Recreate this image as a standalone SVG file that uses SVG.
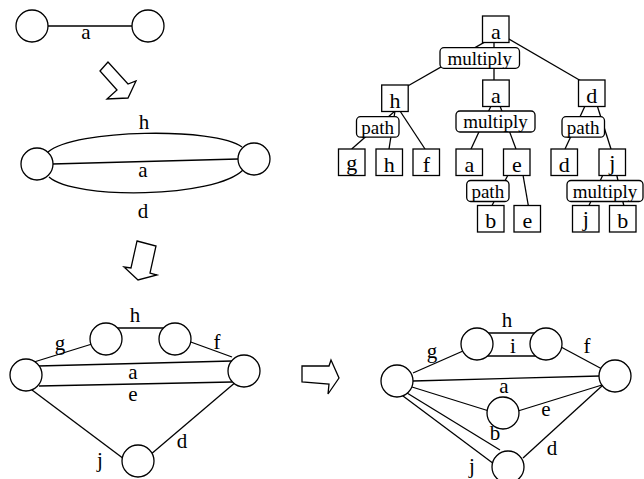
<svg xmlns="http://www.w3.org/2000/svg" width="644" height="479" viewBox="0 0 644 479">
<style>
text{font-family:"Liberation Serif","Times New Roman",serif;font-size:21px;text-anchor:middle;fill:#000}
text.n{font-size:22px}
text.o{font-size:19px}
.v{fill:#fff;stroke:#000;stroke-width:1.3}
.e line,.e path{stroke:#000;stroke-width:1.3;fill:none}
.bx{fill:#fff;stroke:#000;stroke-width:1.3}
.op{fill:#fff;stroke:#000;stroke-width:1.3}
.ar{fill:#fff;stroke:#000;stroke-width:1.3;stroke-linejoin:miter}
</style>
<rect width="644" height="479" fill="#fff"/>

<!-- Graph 1 (top-left) -->
<g id="g1-edges" class="e">
<line x1="48" y1="26" x2="132" y2="26"/>
</g>
<g id="g1-n1"><circle class="v" cx="32" cy="26" r="16"/></g>
<g id="g1-n2"><circle class="v" cx="148" cy="26" r="16"/></g>
<text x="86" y="39">a</text>

<!-- arrows -->
<g id="arrow1"><polygon class="ar" points="100,71 108,62 128,84 136,81 128,98 107,99 117,90"/></g>
<g id="arrow2"><polygon class="ar" points="137,241 156,246 150,273 157,275 138,280 124,267 131,268"/></g>
<g id="arrow3"><polygon class="ar" points="302,366 329,366 331,360 339,378 328,394 329,384 302,382"/></g>

<!-- Graph 2 (middle-left) -->
<g id="g2-edges" class="e">
<path d="M48,152 C75,129 215,127 242,147"/>
<line x1="52" y1="164" x2="238" y2="159"/>
<path d="M49,177 C75,200 215,198 243,170"/>
</g>
<g id="g2-n1"><circle class="v" cx="37" cy="164" r="16"/></g>
<g id="g2-n2"><circle class="v" cx="254" cy="159" r="16"/></g>
<text x="144" y="129">h</text>
<text x="143" y="177">a</text>
<text x="143" y="218">d</text>

<!-- Graph 3 (bottom-left) -->
<g id="g3-edges" class="e">
<line x1="34" y1="362" x2="92" y2="344"/>
<line x1="115" y1="328" x2="166" y2="328"/>
<line x1="188" y1="341" x2="232" y2="357"/>
<line x1="38" y1="366" x2="232" y2="361"/>
<line x1="39" y1="386" x2="232" y2="382"/>
<line x1="32" y1="390" x2="124" y2="459"/>
<line x1="150" y1="455" x2="237" y2="381"/>
</g>
<g id="g3-L"><circle class="v" cx="26" cy="375" r="16"/></g>
<g id="g3-R"><circle class="v" cx="244" cy="371" r="16"/></g>
<g id="g3-TL"><circle class="v" cx="106" cy="339" r="16"/></g>
<g id="g3-TR"><circle class="v" cx="175" cy="339" r="16"/></g>
<g id="g3-B"><circle class="v" cx="138" cy="461" r="16"/></g>
<text x="135" y="322">h</text>
<text x="60" y="350">g</text>
<text x="217" y="349">f</text>
<text x="133" y="379">a</text>
<text x="133" y="401">e</text>
<text x="182" y="448">d</text>
<text x="100" y="467">j</text>

<!-- Graph 4 (bottom-right) -->
<g id="g4-edges" class="e">
<line x1="413" y1="373" x2="463" y2="351"/>
<line x1="480" y1="333" x2="543" y2="333"/>
<line x1="480" y1="356" x2="543" y2="356"/>
<line x1="561" y1="347" x2="602" y2="369"/>
<line x1="413" y1="381" x2="600" y2="376"/>
<line x1="412" y1="387" x2="489" y2="411"/>
<line x1="518" y1="411" x2="602" y2="385"/>
<line x1="407" y1="393" x2="500" y2="450"/>
<line x1="403" y1="396" x2="494" y2="464"/>
<line x1="523" y1="458" x2="603" y2="385"/>
</g>
<g id="g4-L"><circle class="v" cx="397" cy="381" r="16"/></g>
<g id="g4-R"><circle class="v" cx="615" cy="376" r="16"/></g>
<g id="g4-TL"><circle class="v" cx="477" cy="344" r="16"/></g>
<g id="g4-TR"><circle class="v" cx="546" cy="344" r="16"/></g>
<g id="g4-M"><circle class="v" cx="503" cy="413" r="16"/></g>
<g id="g4-B"><circle class="v" cx="508" cy="467" r="16"/></g>
<text x="507" y="327">h</text>
<text x="513" y="353">i</text>
<text x="432" y="358">g</text>
<text x="587" y="353">f</text>
<text x="504" y="393">a</text>
<text x="546" y="416">e</text>
<text x="495" y="440">b</text>
<text x="552" y="455">d</text>
<text x="472" y="473">j</text>

<!-- Tree -->
<g id="tree-edges" class="e">
<line x1="496" y1="35.6" x2="395" y2="93.3"/>
<line x1="494" y1="29" x2="494" y2="93"/>
<line x1="496" y1="31.6" x2="591" y2="86.8"/>
<line x1="395" y1="111" x2="351.7" y2="149"/>
<line x1="395" y1="111" x2="389" y2="149"/>
<line x1="400" y1="111" x2="425" y2="149"/>
<line x1="491" y1="106" x2="471" y2="149"/>
<line x1="500" y1="106" x2="516" y2="149"/>
<line x1="585" y1="106" x2="565" y2="149"/>
<line x1="597.3" y1="106" x2="611" y2="149"/>
<line x1="508" y1="175" x2="492" y2="205.5"/>
<line x1="523" y1="175" x2="528.3" y2="205.5"/>
<line x1="602.8" y1="175" x2="589" y2="205.5"/>
<line x1="616.7" y1="175" x2="623.8" y2="205.5"/>
</g>
<g id="t-root"><rect class="bx" x="482.5" y="16" width="26.5" height="26.5"/><text class="n" x="495.8" y="38.7">a</text></g>
<g id="t-mult1"><rect class="op" x="440" y="47.7" width="79.5" height="20.6" rx="4"/><text class="o" x="479.7" y="64.8">multiply</text></g>
<g id="t-h"><rect class="bx" x="381.7" y="85" width="26.5" height="26.5"/><text class="n" x="395" y="107.5">h</text></g>
<g id="t-a2"><rect class="bx" x="482.7" y="80" width="26.5" height="26.5"/><text class="n" x="496" y="102.5">a</text></g>
<g id="t-d"><rect class="bx" x="578.5" y="80" width="26.5" height="26.5"/><text class="n" x="591.8" y="102.5">d</text></g>
<g id="t-path1"><rect class="op" x="356.5" y="116.7" width="42.5" height="20.5" rx="4"/><text class="o" x="377.7" y="133.8">path</text></g>
<g id="t-mult2"><rect class="op" x="456" y="111" width="79" height="21" rx="4"/><text class="o" x="495.5" y="128.3">multiply</text></g>
<g id="t-path2"><rect class="op" x="562" y="116.7" width="42.5" height="20.5" rx="4"/><text class="o" x="583.2" y="133.8">path</text></g>
<g id="t-g"><rect class="bx" x="338.5" y="149" width="26.5" height="26.5"/><text class="n" x="351.8" y="169.5">g</text></g>
<g id="t-h2"><rect class="bx" x="376" y="149" width="26.5" height="26.5"/><text class="n" x="389.3" y="171.5">h</text></g>
<g id="t-f"><rect class="bx" x="413" y="149" width="26.5" height="26.5"/><text class="n" x="426.3" y="171.5">f</text></g>
<g id="t-a3"><rect class="bx" x="456" y="149" width="26.5" height="26.5"/><text class="n" x="469.3" y="171.5">a</text></g>
<g id="t-e"><rect class="bx" x="503.5" y="149" width="26.5" height="26.5"/><text class="n" x="516.8" y="171.5">e</text></g>
<g id="t-d2"><rect class="bx" x="551" y="149" width="26.5" height="26.5"/><text class="n" x="564.3" y="171.5">d</text></g>
<g id="t-j"><rect class="bx" x="599" y="149" width="26.5" height="26.5"/><text class="n" x="612.3" y="169.5">j</text></g>
<g id="t-path3"><rect class="op" x="466.7" y="180.5" width="42.3" height="21" rx="4"/><text class="o" x="487.8" y="197.8">path</text></g>
<g id="t-mult3"><rect class="op" x="567" y="180.5" width="76" height="21" rx="4"/><text class="o" x="605" y="197.8">multiply</text></g>
<g id="t-b"><rect class="bx" x="477.5" y="205.5" width="26.5" height="26.5"/><text class="n" x="490.8" y="228">b</text></g>
<g id="t-e2"><rect class="bx" x="514" y="205.5" width="26.5" height="26.5"/><text class="n" x="527.3" y="228">e</text></g>
<g id="t-j2"><rect class="bx" x="572.5" y="205.5" width="26.5" height="26.5"/><text class="n" x="585.8" y="226">j</text></g>
<g id="t-b2"><rect class="bx" x="609.5" y="205.5" width="26.5" height="26.5"/><text class="n" x="622.8" y="228">b</text></g>
</svg>
